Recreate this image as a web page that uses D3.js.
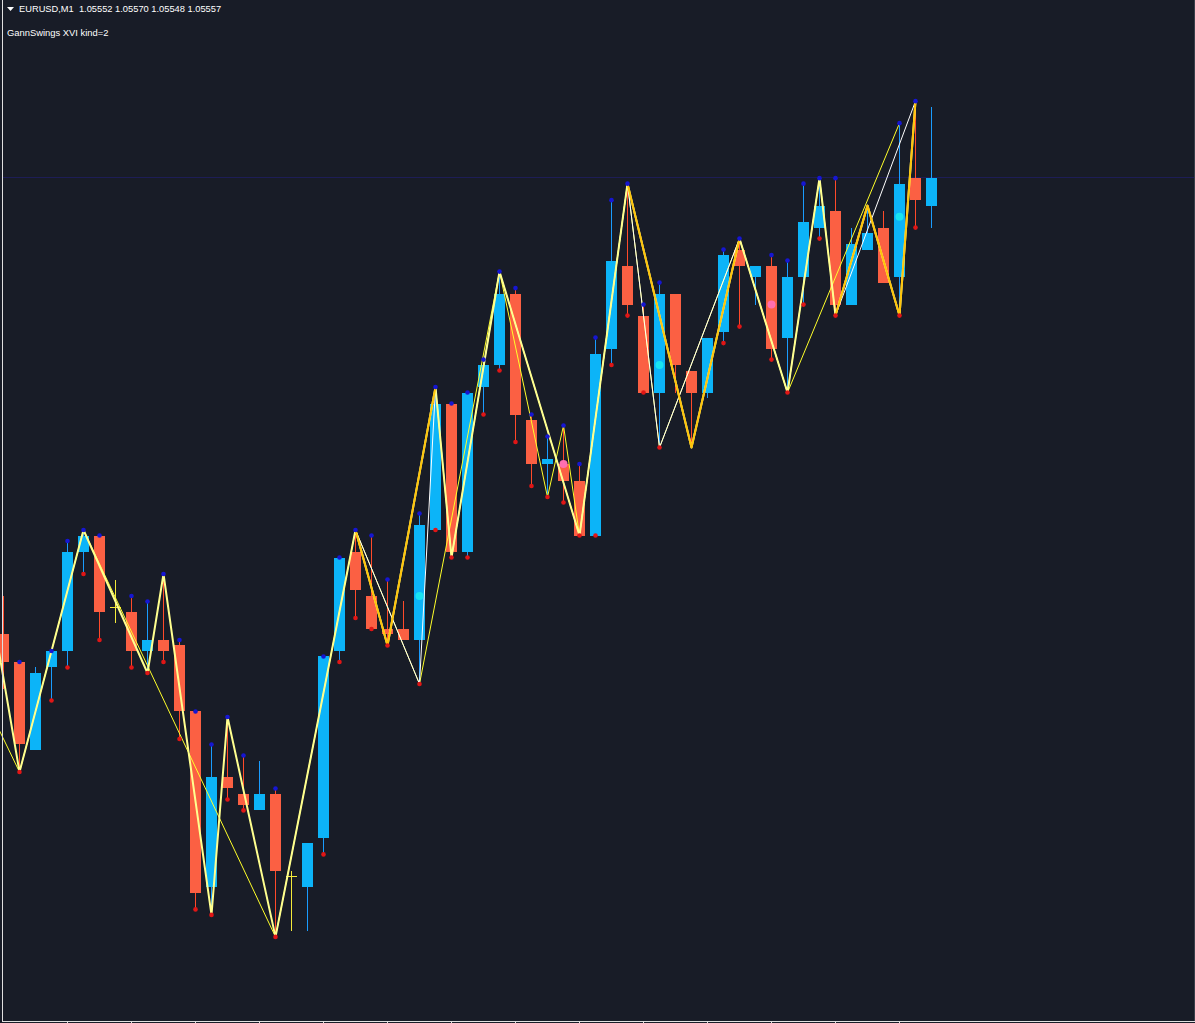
<!DOCTYPE html>
<html><head><meta charset="utf-8">
<script src="https://cdn.jsdelivr.net/npm/d3@7"></script>
<style>html,body{margin:0;padding:0;background:#181c27;overflow:hidden}</style>
</head><body><svg id="c" width="1195" height="1023"></svg>
<script>
// ---------- data ----------
const symbolLabel = "EURUSD,M1";
const lastQuote = ["1.05552", "1.05570", "1.05548", "1.05557"];
const indicatorLabel = "GannSwings XVI kind=2";

// bar index, open, high, low, close (M1 bars, left to right)
const barIndex = d3.range(0, 59);
const opens  = [1.05474,1.05469,1.05453,1.05468,1.05471,1.05489,1.05492,1.05479,1.05478,1.05471,
                1.05473,1.05472,1.05460,1.05428,1.05448,1.05445,1.05442,1.05445,1.05430,1.05428,
                1.05437,1.05471,1.05489,1.05481,1.05475,1.05475,1.05473,1.05493,1.05516,1.05489,
                1.05519,1.05523,1.05536,1.05513,1.05505,1.05505,1.05502,1.05492,1.05526,1.05541,
                1.05532,1.05518,1.05536,1.05522,1.05518,1.05529,1.05544,1.05539,1.05541,1.05528,
                1.05539,1.05548,1.05551,1.05534,1.05544,1.05548,1.05539,1.05557,1.05552];
const highs  = [1.05481,1.05469,1.05468,1.05471,1.05491,1.05493,1.05492,1.05484,1.05481,1.05480,
                1.05485,1.05473,1.05460,1.05454,1.05459,1.05452,1.05451,1.05446,1.05431,1.05436,
                1.05470,1.05488,1.05493,1.05492,1.05484,1.05480,1.05496,1.05519,1.05516,1.05518,
                1.05524,1.05540,1.05537,1.05514,1.05510,1.05512,1.05505,1.05528,1.05553,1.05556,
                1.05534,1.05538,1.05536,1.05522,1.05528,1.05544,1.05546,1.05541,1.05543,1.05542,
                1.05556,1.05557,1.05557,1.05548,1.05552,1.05551,1.05567,1.05571,1.05570];
const lows   = [1.05464,1.05449,1.05453,1.05462,1.05468,1.05485,1.05473,1.05476,1.05468,1.05467,
                1.05469,1.05455,1.05424,1.05423,1.05444,1.05442,1.05442,1.05419,1.05420,1.05420,
                1.05434,1.05469,1.05477,1.05475,1.05472,1.05473,1.05465,1.05493,1.05488,1.05488,
                1.05514,1.05522,1.05509,1.05501,1.05499,1.05498,1.05492,1.05492,1.05523,1.05532,
                1.05518,1.05508,1.05518,1.05508,1.05517,1.05527,1.05530,1.05534,1.05524,1.05518,
                1.05534,1.05546,1.05532,1.05534,1.05544,1.05538,1.05532,1.05548,1.05548];
const closes = [1.05469,1.05454,1.05467,1.05471,1.05489,1.05492,1.05478,1.05479,1.05471,1.05473,
                1.05471,1.05460,1.05427,1.05448,1.05446,1.05443,1.05445,1.05431,1.05430,1.05436,
                1.05470,1.05488,1.05482,1.05475,1.05474,1.05473,1.05494,1.05516,1.05489,1.05518,
                1.05523,1.05536,1.05514,1.05505,1.05506,1.05502,1.05492,1.05525,1.05542,1.05534,
                1.05518,1.05536,1.05523,1.05518,1.05528,1.05543,1.05541,1.05541,1.05526,1.05539,
                1.05549,1.05552,1.05534,1.05545,1.05547,1.05538,1.05556,1.05553,1.05557];

// bars carrying the high/low markers
const markedBars = [1,3,4,5,6,8,9,10,11,12,13,14,15,17,20,21,22,23,24,26,27,28,29,30,31,32,33,34,35,36,
                    37,38,39,40,41,45,46,48,49,50,51,52,56,57];
// signal dots: [bar, price]
const cyanSignals = [[26, 1.05481], [41, 1.05523], [56, 1.05550]];
const pinkSignals = [[35, 1.05505], [48, 1.05534]];

// swing lines: [bar, "H" | "L" | price]
const swingThin  = [[-1,1.05461],[1,"L"],[5,"H"],[17,"L"],[22,"H"],[26,"L"],[31,"H"],[34,"L"],[35,"H"],
                    [36,"L"],[39,"H"],[41,"L"],[46,"H"],[49,"L"],[56,"H"]];
const swingWhite = [[22,"H"],[26,"L"],[27,"H"],[28,"L"],[31,"H"],[36,"L"],[39,"H"],[41,"L"],[46,"H"],
                    [49,"L"],[51,"H"],[52,"L"],[57,"H"]];
const swingPale  = [[-1,1.05483],[1,"L"],[5,"H"],[9,"L"],[10,"H"],[13,"L"],[14,"H"],[17,"L"],[22,"H"],
                    [24,"L"],[27,"H"],[28,"L"],[31,"H"],[36,"L"],[39,"H"],[43,"L"],[46,"H"],[49,"L"],
                    [51,"H"],[52,"L"],[54,"H"],[56,"L"],[57,"H"]];
const swingGold  = [[[22,"H"],[24,"L"],[27,"H"]],
                    [[39,"H"],[43,"L"],[46,"H"]],
                    [[52,"L"],[54,"H"],[56,"L"],[57,"H"]]];
// time-axis tick bars
const tickBars = d3.range(4, 57, 4);

// ---------- layout ----------
const W = 1195, H = 1023;
const plotBottom = 1021;
const priceTop = 1.055894, priceBottom = 1.054037;
const colors = {bg:"#181c27", bull:"#0cb4f8", bear:"#fb6043", bullWick:"#1a9cff", bearWick:"#ff4a2a",
                doji:"#f4ea3a", hiDot:"#1616d2", loDot:"#e01616", cyan:"#18e4f0", pink:"#ff6fb0",
                thin:"#ffff2a", white:"#ffffff", pale:"#ffff8f", gold:"#ffc40a",
                bid:"#1d1d56", frame:"#e0e0e0"};

const x = d3.scaleLinear().domain([0, 58]).range([3, 931]);
const y = d3.scaleLinear().domain([priceBottom, priceTop]).range([plotBottom, 0]);

const bars = barIndex.map(i => ({i, o:opens[i], h:highs[i], l:lows[i], c:closes[i]}));
const px = i => Math.round(x(i));
const py = v => Math.round(y(v));

const svg = d3.select("#c").attr("shape-rendering", "crispEdges");
svg.append("rect").attr("width", W).attr("height", H).attr("fill", colors.bg);

// bid line
svg.append("rect").attr("x", 3).attr("width", W - 3).attr("y", py(+lastQuote[3]) - 1).attr("height", 1)
  .attr("fill", colors.bid);

// candles
const cg = svg.append("g");
bars.forEach(b => {
  const cx = px(b.i);
  const doji = b.o === b.c;
  const bull = b.c > b.o;
  const col = doji ? colors.doji : (bull ? colors.bull : colors.bear);
  const wcol = doji ? colors.doji : (bull ? colors.bullWick : colors.bearWick);
  cg.append("rect").attr("x", cx).attr("width", 1).attr("y", py(b.h)).attr("height", Math.max(1, py(b.l) - py(b.h)))
    .attr("fill", wcol);
  if (doji) {
    cg.append("rect").attr("x", cx - 5).attr("width", 11).attr("y", py(b.o)).attr("height", 1).attr("fill", col);
  } else {
    const t = py(Math.max(b.o, b.c)), bt = py(Math.min(b.o, b.c));
    cg.append("rect").attr("x", cx - 5).attr("width", 11).attr("y", t).attr("height", Math.max(1, bt - t))
      .attr("fill", col);
  }
});

// swing lines
const pt = d => [x(d[0]) + 0.5, y(d[1] === "H" ? highs[d[0]] : d[1] === "L" ? lows[d[0]] : d[1])];
const line = d3.line().x(d => pt(d)[0]).y(d => pt(d)[1]);
const lg = svg.append("g").attr("fill", "none").attr("stroke-linejoin", "round").attr("shape-rendering", "auto");
lg.append("path").attr("d", line(swingThin)).attr("stroke", colors.thin).attr("stroke-width", 1);
lg.append("path").attr("d", line(swingWhite)).attr("stroke", colors.white).attr("stroke-width", 1);
lg.append("path").attr("d", line(swingPale)).attr("stroke", colors.pale).attr("stroke-width", 2);
swingGold.forEach(s => lg.append("path").attr("d", line(s)).attr("stroke", colors.gold).attr("stroke-width", 2));

// high/low markers
const mg = svg.append("g").attr("shape-rendering", "auto");
markedBars.forEach(i => {
  mg.append("circle").attr("cx", x(i) + 0.5).attr("cy", y(highs[i])).attr("r", 2.3).attr("fill", colors.hiDot);
  mg.append("circle").attr("cx", x(i) + 0.5).attr("cy", y(lows[i])).attr("r", 2.3).attr("fill", colors.loDot);
});
cyanSignals.forEach(d => mg.append("circle").attr("cx", x(d[0]) + 0.5).attr("cy", y(d[1])).attr("r", 4).attr("fill", colors.cyan));
pinkSignals.forEach(d => mg.append("circle").attr("cx", x(d[0]) + 0.5).attr("cy", y(d[1])).attr("r", 4).attr("fill", colors.pink));

// frame
svg.append("rect").attr("x", 2).attr("width", 1).attr("y", 0).attr("height", plotBottom + 1).attr("fill", colors.frame);
svg.append("rect").attr("x", 2).attr("width", W - 2).attr("y", plotBottom).attr("height", 1).attr("fill", colors.frame);
svg.append("rect").attr("x", W - 1).attr("width", 1).attr("y", 0).attr("height", plotBottom).attr("fill", "#3a3f4a");
tickBars.forEach(i => svg.append("rect").attr("x", px(i)).attr("width", 1)
  .attr("y", plotBottom + 1).attr("height", H - plotBottom - 1).attr("fill", colors.frame));

// header texts
svg.append("path").attr("d", "M7,7L14,7L10.5,11Z").attr("fill", "#ffffff").attr("shape-rendering", "auto");
svg.append("text").attr("x", 19).attr("y", 12).attr("fill", "#ffffff")
  .attr("font-family", "'Liberation Sans', Arial, sans-serif").attr("font-size", 9.3)
  .attr("xml:space", "preserve").style("white-space", "pre")
  .text(symbolLabel + "  " + lastQuote.join(" "));
svg.append("text").attr("x", 7).attr("y", 36).attr("fill", "#ffffff")
  .attr("font-family", "'Liberation Sans', Arial, sans-serif").attr("font-size", 9.4)
  .text(indicatorLabel);
</script></body></html>
